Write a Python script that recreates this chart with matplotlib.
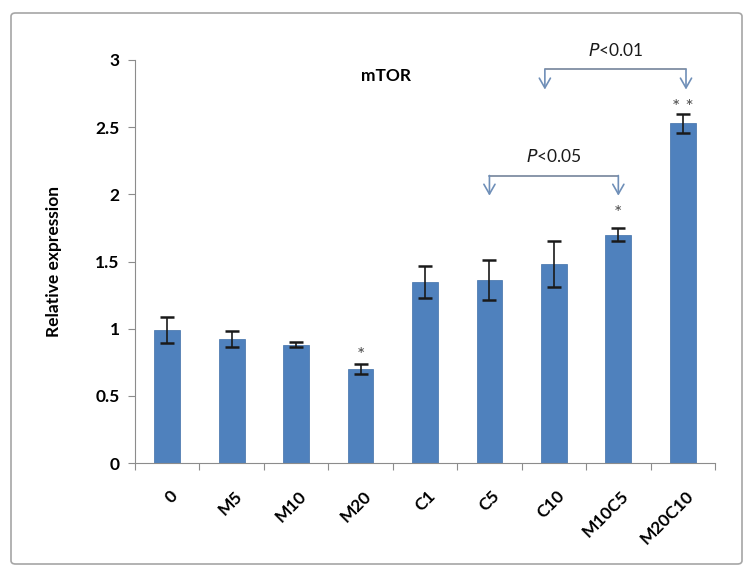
import matplotlib
matplotlib.use('Agg')
import matplotlib.pyplot as plt
from matplotlib.patches import FancyBboxPatch
import matplotlib.transforms as mtransforms
import numpy as np

groups = ['0', 'M5', 'M10', 'M20', 'C1', 'C5', 'C10', 'M10C5', 'M20C10']
means = [0.99, 0.92, 0.88, 0.70, 1.35, 1.36, 1.48, 1.70, 2.53]
errs = [0.10, 0.06, 0.02, 0.04, 0.12, 0.15, 0.17, 0.05, 0.07]
stars = {'M20': '*', 'M10C5': '*', 'M20C10': '* *'}
star_y = [0.80, 1.86, 2.65]

# brackets: (left group, right group, label, line height, arrow tip height)
brackets = [('C5', 'M10C5', '<0.05', 2.14, 1.99),
            ('C10', 'M20C10', '<0.01', 2.93, 2.78)]

plt.rcParams['font.family'] = ['Lato', 'DejaVu Sans']

fig = plt.figure(figsize=(7.52, 5.76), dpi=100)
ax = fig.add_axes([135 / 752, 1 - 463 / 576, 580 / 752, 403 / 576])

# outer chart border
fig.patches.append(FancyBboxPatch((11 / 752, 12 / 576), 731 / 752, 551 / 576,
                                  boxstyle='round,pad=0,rounding_size=0.006',
                                  transform=fig.transFigure, fill=False,
                                  edgecolor='#a6a6a6', lw=1.2))

x = np.arange(len(groups))
ax.bar(x, means, width=0.4, color='#4f81bd', edgecolor='#3f6fa8', lw=0.5, zorder=2)
ax.errorbar(x, means, yerr=errs, fmt='none', ecolor='#1a1a1a', elinewidth=1.2,
            capsize=5, capthick=1.8, zorder=3)

for (g, s), yy in zip(stars.items(), star_y):
    ax.text(groups.index(g), yy, s, ha='center', va='center', fontsize=14,
            color='#4d4d4d')

bcol = '#6f8fb8'
offs = {'C5': 0.0, 'M10C5': 0.0, 'C10': -0.14, 'M20C10': 0.05}
for g1, g2, lab, ly, tip in brackets:
    x1 = groups.index(g1) + offs[g1]
    x2 = groups.index(g2) + offs[g2]
    ax.plot([x1, x2], [ly, ly], color='#7f8ea3', lw=1.3, clip_on=False,
            solid_capstyle='round')
    for xx in (x1, x2):
        ax.annotate('', xy=(xx, tip), xytext=(xx, ly), annotation_clip=False,
                    arrowprops=dict(arrowstyle='->,head_width=0.4,head_length=0.7',
                                    color=bcol, lw=1.2, shrinkA=0, shrinkB=0))
    ax.text((x1 + x2) / 2, ly + 0.14, r'$\mathit{P}$' + lab, ha='center', va='center',
            fontsize=12.5, color='#1a1a1a', clip_on=False)

ax.set_xlim(-0.5, len(groups) - 0.5)
ax.set_ylim(0, 3)
ax.set_yticks(np.arange(0, 3.01, 0.5))
ax.set_yticklabels(['0', '0.5', '1', '1.5', '2', '2.5', '3'], fontweight='bold',
                   fontsize=12.5)
ax.set_xticks(np.arange(-0.5, len(groups), 1.0))
ax.set_xticklabels([])
ax.set_xticks(x, minor=True)
ax.set_xticklabels(groups, minor=True, rotation=45, ha='right', va='center',
                   rotation_mode='anchor', fontweight='bold', fontsize=12.5)
ax.tick_params(axis='x', which='minor', length=0, pad=22)
ax.tick_params(axis='x', which='major', length=5, color='#8c8c8c', direction='out')
ax.tick_params(axis='y', length=5, color='#8c8c8c', direction='out', pad=6)
off = mtransforms.ScaledTranslation(0.08, 0, fig.dpi_scale_trans)
for lbl in ax.get_xticklabels(minor=True):
    lbl.set_transform(lbl.get_transform() + off)

for sp in ('top', 'right'):
    ax.spines[sp].set_visible(False)
ax.spines['left'].set_color('#8c8c8c')
ax.spines['bottom'].set_color('#8c8c8c')

ax.set_ylabel('Relative expression', fontsize=12.5, fontweight='bold', labelpad=24)
fig.text(386 / 752, 1 - 76 / 576, 'mTOR', ha='center', va='center',
         fontsize=12.5, fontweight='bold')

fig.savefig('out.png', dpi=100)
